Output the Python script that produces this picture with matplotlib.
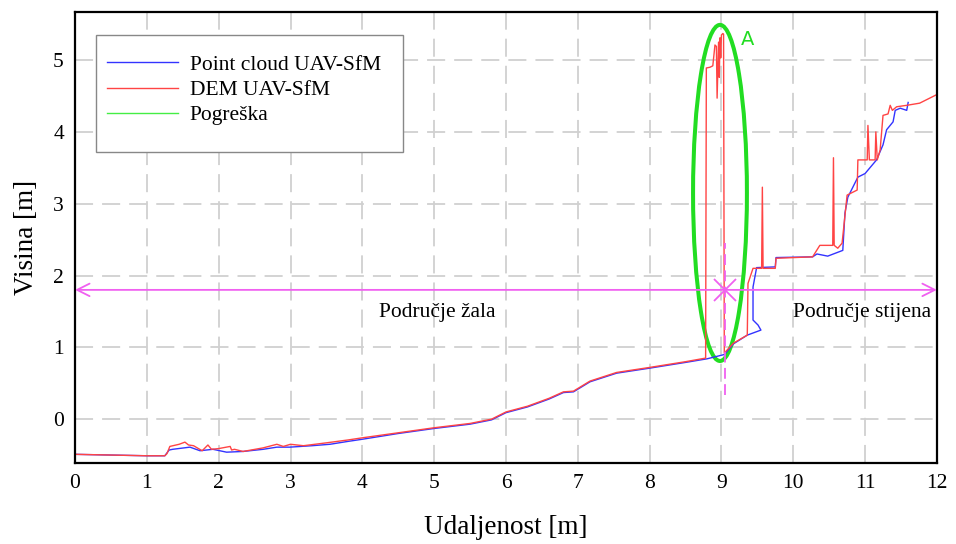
import matplotlib
matplotlib.use("Agg")
import matplotlib.pyplot as plt
from matplotlib.patches import Ellipse, Rectangle

plt.rcParams['font.family'] = ['Liberation Serif', 'DejaVu Serif']

# Point cloud UAV-SfM (blue)
pc_x = [0, 0.5, 1.0, 1.25, 1.31, 1.36, 1.6, 1.74, 1.92, 2.11, 2.34, 2.62, 2.81, 2.99,
        3.3, 3.55, 3.8, 4.0, 4.5, 5.0, 5.5, 5.8, 6.0, 6.3, 6.6, 6.8, 6.94, 7.17,
        7.54, 8.0, 8.5, 8.8, 9.04, 9.17, 9.36, 9.55, 9.51, 9.44, 9.44, 9.49, 9.75,
        9.76, 10.27, 10.33, 10.48, 10.69, 10.72, 10.76, 10.90, 11.0, 11.16, 11.25,
        11.30, 11.39, 11.42, 11.49, 11.58, 11.60]
pc_y = [-0.49, -0.50, -0.51, -0.51, -0.43, -0.42, -0.39, -0.44, -0.42, -0.46, -0.45,
        -0.42, -0.39, -0.39, -0.37, -0.35, -0.31, -0.28, -0.20, -0.13, -0.07, -0.01,
        0.09, 0.17, 0.28, 0.37, 0.38, 0.52, 0.64, 0.71, 0.79, 0.84, 0.90, 1.05, 1.17,
        1.24, 1.31, 1.38, 1.84, 2.11, 2.12, 2.25, 2.26, 2.30, 2.27, 2.35, 2.87, 3.09,
        3.37, 3.42, 3.61, 3.82, 4.03, 4.14, 4.30, 4.33, 4.30, 4.41]

# DEM UAV-SfM (red)
dem_x = [0, 0.5, 1.0, 1.25, 1.28, 1.32, 1.45, 1.53, 1.58, 1.65, 1.77, 1.85, 1.90,
         2.0, 2.16, 2.18, 2.22, 2.34, 2.62, 2.81, 2.9, 3.0, 3.18, 3.5, 3.8, 4.0,
         4.5, 5.0, 5.5, 5.8, 6.0, 6.3, 6.6, 6.8, 6.94, 7.17, 7.54, 8.0, 8.5, 8.78,
         8.79, 8.84, 8.88, 8.91, 8.93, 8.94, 8.96, 8.97, 8.98, 8.99, 9.00, 9.02,
         9.03, 9.04, 9.17, 9.36, 9.37, 9.44, 9.56, 9.57, 9.58, 9.75, 9.76, 10.27,
         10.37, 10.55, 10.56, 10.57, 10.62, 10.68, 10.75, 10.89, 10.90, 11.03, 11.04,
         11.06, 11.14, 11.15, 11.17, 11.21, 11.25, 11.32, 11.35, 11.38, 11.44, 11.58,
         11.76, 12.0]
dem_y = [-0.49, -0.50, -0.51, -0.51, -0.48, -0.38, -0.35, -0.32, -0.36, -0.37, -0.44,
         -0.36, -0.42, -0.41, -0.38, -0.43, -0.42, -0.45, -0.40, -0.35, -0.38, -0.35,
         -0.37, -0.33, -0.29, -0.26, -0.19, -0.12, -0.06, 0.00, 0.10, 0.18, 0.29, 0.38,
         0.39, 0.53, 0.65, 0.72, 0.80, 0.85, 4.89, 4.90, 4.92, 5.21, 5.19, 4.47, 5.25,
         4.76, 5.31, 5.03, 5.35, 5.37, 5.36, 0.92, 1.06, 1.17, 1.89, 2.10, 2.10, 3.23,
         2.10, 2.10, 2.24, 2.26, 2.42, 2.42, 3.64, 2.42, 2.38, 2.45, 3.12, 3.19, 3.61,
         3.61, 4.09, 3.61, 3.61, 4.00, 3.61, 3.75, 4.23, 4.25, 4.37, 4.30, 4.35, 4.37,
         4.40, 4.52]

area_y = 1.8
split_x = 9.05

fig, ax = plt.subplots(figsize=(9.56, 5.44), dpi=100)
fig.subplots_adjust(left=0.0785, right=0.980, bottom=0.149, top=0.978)

ax.plot(pc_x, pc_y, color='#3333ff', lw=1.0, label='Point cloud UAV-SfM')
ax.plot(dem_x, dem_y, color='#ff4444', lw=1.0, label='DEM UAV-SfM')
ax.plot([], [], color='#44ee44', lw=1.0, label='Pogreška')

# zone markers
ax.annotate('', xy=(0, area_y), xytext=(12, area_y),
            arrowprops=dict(arrowstyle='<->,head_length=0.9,head_width=0.45',
                            color='#f060f0', lw=1.3, shrinkA=0, shrinkB=0))
ax.plot([split_x, split_x], [0.33, 2.45], color='#f060f0', lw=1.3, ls=(0, (6, 3)))
ax.plot([split_x], [area_y], marker='x', ms=16, mew=1.3, color='#f060f0')
ax.text(5.05, 1.48, 'Područje žala', fontsize=15.5, ha='center', va='center')
ax.text(10.96, 1.48, 'Područje stijena', fontsize=15.5, ha='center', va='center')

# error zone
ax.add_patch(Ellipse((8.98, 3.15), 0.75, 4.68, fill=False, ec='#22dd22', lw=2.9))
ax.text(9.36, 5.29, 'A', color='#22dd22', fontsize=14, family='DejaVu Sans',
        ha='center', va='center')

ax.set_xlim(0, 12)
ax.set_ylim(-0.61, 5.67)
ax.set_xticks(range(0, 13))
ax.set_yticks(range(0, 6))
ax.tick_params(length=0, pad=8, labelsize=15.5)
ax.grid(True, color='#d0d0d0', lw=1.3, ls=(0, (10, 5)))
ax.set_axisbelow(True)
for s in ax.spines.values():
    s.set_linewidth(1.6)
    s.set_color('black')

ax.set_xlabel('Udaljenost [m]', fontsize=19.5, labelpad=16)
ax.set_ylabel('Visina [m]', fontsize=19.5, labelpad=10)

# legend box drawn separately (taller than the entries)
ax.add_patch(Rectangle((0.0244, 0.690), 0.3561, 0.259, transform=ax.transAxes,
                       fc='white', ec='#888888', lw=1.0, zorder=4))
leg = ax.legend(loc='upper left', bbox_to_anchor=(0.0244, 0.929),
                fontsize=15.5, handlelength=3.3, handletextpad=0.55, labelspacing=0.24,
                borderpad=0.5, frameon=False, borderaxespad=0)
leg.set_zorder(5)

plt.savefig('out.png', dpi=100)
